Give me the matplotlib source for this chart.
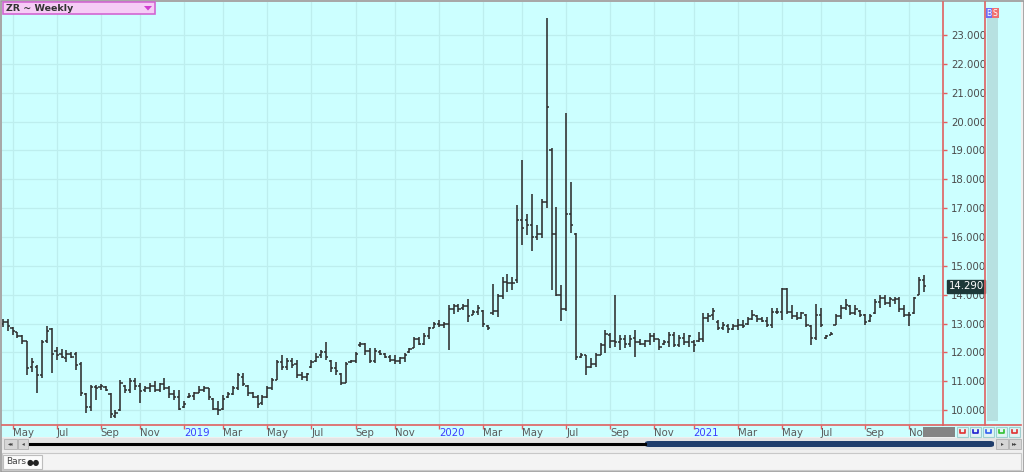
import numpy as np
import pandas as pd
import matplotlib
matplotlib.use('Agg')
import matplotlib.pyplot as plt
from matplotlib.patches import Rectangle, Polygon, FancyBboxPatch
from matplotlib.lines import Line2D

# weekly bars, ZR (rough rice), first bar week of 2018-04-20
first_week = '2018-04-20'

highs = [13.15, 13.15, 12.89, 12.71, 12.60, 12.40, 11.80, 11.56, 12.43, 12.91,
         12.83, 12.20, 12.10, 12.08, 12.02, 12.02, 11.68, 10.59, 10.87, 10.87,
         10.90, 10.85, 10.59, 10.00, 11.05, 10.87, 11.10, 11.10, 10.93, 10.82,
         10.93, 10.99, 10.93, 11.10, 10.82, 10.70, 10.70, 10.30, 10.59, 10.64,
         10.82, 10.82, 10.76, 10.41, 10.30, 10.53, 10.64, 10.82, 11.28, 11.28,
         10.87, 10.64, 10.53, 10.53, 10.82, 11.10, 11.74, 11.91, 11.80, 11.80,
         11.74, 11.33, 11.28, 11.74, 11.97, 12.08, 12.37, 11.74, 11.68, 11.28,
         11.68, 11.74, 12.02, 12.37, 12.31, 12.14, 12.14, 12.08, 11.97, 11.91,
         11.90, 11.85, 11.97, 12.14, 12.54, 12.54, 12.66, 12.89, 13.06, 13.11,
         13.06, 13.63, 13.69, 13.69, 13.69, 13.86, 13.46, 13.63, 13.46, 12.94,
         14.38, 14.03, 14.60, 14.72, 14.60, 17.10, 18.67, 16.80, 17.50, 16.40,
         17.30, 23.58, 19.07, 17.05, 14.34, 20.30, 17.90, 16.15, 11.97, 11.90,
         11.80, 11.97, 12.31, 12.77, 12.66, 13.98, 12.60, 12.60, 12.60, 12.77,
         12.48, 12.43, 12.66, 12.66, 12.48, 12.43, 12.71, 12.71, 12.60, 12.66,
         12.60, 12.43, 12.71, 13.35, 13.35, 13.52, 13.11, 13.06, 13.00, 13.00,
         13.17, 13.11, 13.23, 13.46, 13.29, 13.23, 13.23, 13.52, 13.52, 14.23,
         14.23, 13.63, 13.40, 13.40, 13.34, 12.94, 13.69, 13.52, 12.60, 12.71,
         13.34, 13.63, 13.86, 13.63, 13.63, 13.46, 13.34, 13.34, 13.86, 13.98,
         13.98, 13.92, 13.92, 13.92, 13.63, 13.40, 13.92, 14.60, 14.68]

lows = [12.89, 12.75, 12.60, 12.50, 12.30, 11.22, 11.33, 10.59, 11.10, 12.31,
        11.28, 11.74, 11.80, 11.68, 11.80, 11.40, 10.47, 9.90, 9.95, 10.36,
        10.70, 10.65, 9.72, 9.72, 9.95, 10.59, 10.59, 10.70, 10.24, 10.64,
        10.64, 10.64, 10.64, 10.70, 10.41, 10.36, 10.00, 10.07, 10.41, 10.36,
        10.59, 10.64, 10.36, 10.00, 9.84, 10.00, 10.41, 10.53, 10.70, 10.82,
        10.47, 10.41, 10.07, 10.18, 10.41, 10.70, 11.05, 11.39, 11.39, 11.45,
        11.10, 11.05, 10.99, 11.45, 11.68, 11.80, 11.74, 11.33, 11.22, 10.87,
        10.93, 11.62, 11.62, 12.20, 11.91, 11.62, 11.62, 11.91, 11.80, 11.68,
        11.60, 11.60, 11.68, 11.97, 12.14, 12.25, 12.25, 12.48, 12.83, 12.89,
        12.83, 12.08, 13.34, 13.40, 13.46, 13.06, 13.29, 13.29, 12.89, 12.77,
        13.29, 13.23, 13.86, 14.09, 14.15, 14.40, 15.72, 16.07, 15.50, 15.90,
        15.95, 17.00, 14.17, 13.94, 13.07, 13.42, 16.13, 11.74, 11.80, 11.22,
        11.45, 11.50, 11.90, 11.97, 12.14, 12.20, 12.08, 12.14, 12.20, 11.85,
        12.25, 12.20, 12.25, 12.37, 12.08, 12.25, 12.20, 12.20, 12.20, 12.25,
        12.20, 12.02, 12.37, 12.37, 13.06, 13.11, 12.77, 12.77, 12.66, 12.77,
        12.77, 12.83, 12.94, 13.11, 13.06, 13.06, 12.89, 12.83, 13.34, 13.11,
        13.34, 13.17, 13.11, 13.17, 12.89, 12.25, 12.43, 12.89, 12.48, 12.60,
        12.94, 13.17, 13.46, 13.29, 13.29, 13.23, 12.94, 13.06, 13.34, 13.52,
        13.63, 13.57, 13.69, 13.40, 13.23, 12.92, 13.34, 13.98, 14.10]

opens = [13.00, 13.05, 12.85, 12.70, 12.55, 12.40, 11.50, 11.50, 11.20, 12.40,
         12.80, 12.05, 11.95, 11.80, 11.95, 11.95, 11.60, 10.55, 10.10, 10.80,
         10.80, 10.80, 10.55, 9.80, 10.00, 10.85, 10.70, 11.00, 10.85, 10.70,
         10.75, 10.85, 10.70, 10.90, 10.75, 10.55, 10.45, 10.10, 10.45, 10.50,
         10.60, 10.70, 10.75, 10.40, 10.05, 10.05, 10.45, 10.55, 10.75, 11.15,
         10.85, 10.60, 10.45, 10.25, 10.45, 10.75, 11.05, 11.65, 11.50, 11.70,
         11.60, 11.20, 11.15, 11.50, 11.70, 11.90, 12.00, 11.70, 11.45, 11.25,
         10.95, 11.65, 11.70, 12.25, 12.30, 12.05, 11.70, 12.00, 11.95, 11.85,
         11.75, 11.70, 11.80, 12.00, 12.15, 12.45, 12.30, 12.55, 12.85, 13.00,
         12.95, 13.00, 13.50, 13.60, 13.55, 13.60, 13.30, 13.40, 13.45, 12.90,
         13.35, 13.45, 13.95, 14.45, 14.40, 14.50, 16.60, 16.60, 16.40, 16.00,
         16.10, 17.20, 19.00, 16.10, 14.00, 13.50, 16.80, 16.10, 11.85, 11.90,
         11.50, 11.60, 11.90, 12.25, 12.60, 12.40, 12.35, 12.45, 12.30, 12.50,
         12.35, 12.30, 12.40, 12.55, 12.45, 12.30, 12.35, 12.60, 12.25, 12.50,
         12.35, 12.35, 12.40, 12.45, 13.20, 13.30, 13.05, 12.85, 12.90, 12.80,
         12.90, 12.95, 13.00, 13.15, 13.25, 13.15, 13.10, 12.95, 13.40, 13.40,
         14.20, 13.40, 13.25, 13.20, 13.30, 12.90, 12.50, 13.30, 12.50, 12.60,
         12.95, 13.25, 13.55, 13.60, 13.35, 13.45, 13.30, 13.10, 13.35, 13.75,
         13.90, 13.70, 13.80, 13.85, 13.50, 13.30, 13.35, 14.00, 14.50]

closes = [13.05, 12.90, 12.75, 12.55, 12.40, 11.45, 11.65, 11.20, 12.35, 12.75,
          11.95, 11.90, 11.85, 11.95, 11.85, 11.55, 10.60, 10.10, 10.80, 10.75,
          10.85, 10.70, 9.85, 9.90, 10.95, 10.70, 11.00, 10.85, 10.65, 10.75,
          10.85, 10.70, 10.90, 10.75, 10.55, 10.45, 10.05, 10.20, 10.50, 10.60,
          10.70, 10.75, 10.45, 10.05, 10.00, 10.40, 10.55, 10.75, 11.20, 10.90,
          10.60, 10.45, 10.20, 10.45, 10.75, 11.05, 11.65, 11.50, 11.70, 11.55,
          11.20, 11.15, 11.25, 11.65, 11.85, 12.00, 11.85, 11.45, 11.35, 10.95,
          11.60, 11.70, 11.95, 12.30, 12.05, 11.70, 12.05, 11.95, 11.85, 11.75,
          11.70, 11.80, 11.90, 12.10, 12.45, 12.30, 12.55, 12.85, 13.00, 12.95,
          13.00, 13.50, 13.60, 13.50, 13.60, 13.25, 13.40, 13.55, 13.00, 12.85,
          13.45, 13.95, 14.45, 14.40, 14.40, 16.60, 16.30, 16.40, 16.00, 16.10,
          17.20, 20.50, 16.10, 14.00, 13.50, 16.80, 16.40, 11.85, 11.90, 11.50,
          11.60, 11.90, 12.25, 12.65, 12.40, 12.35, 12.45, 12.30, 12.45, 12.35,
          12.30, 12.40, 12.55, 12.45, 12.20, 12.35, 12.60, 12.25, 12.50, 12.35,
          12.55, 12.25, 12.45, 13.20, 13.25, 13.45, 12.85, 12.95, 12.80, 12.90,
          12.95, 12.90, 13.15, 13.30, 13.15, 13.10, 12.95, 13.40, 13.40, 14.20,
          13.40, 13.25, 13.20, 13.35, 12.95, 12.50, 13.30, 12.95, 12.55, 12.65,
          13.25, 13.55, 13.65, 13.35, 13.50, 13.30, 13.05, 13.25, 13.75, 13.90,
          13.70, 13.85, 13.85, 13.50, 13.30, 13.30, 13.90, 14.50, 14.29]

last_price = 14.290
price_levels = list(range(10, 24))
month_names = {3: 'Mar', 5: 'May', 7: 'Jul', 9: 'Sep', 11: 'Nov'}

W, H = 1024, 472
BG = '#ccffff'
GRID = '#bdeeee'
RED = '#e06060'


def fx(x):
    return x / W


def fy(y):
    return 1 - y / H


def rect(x0, y0, x1, y1, **kw):
    r = Rectangle((fx(x0), fy(y1)), (x1 - x0) / W, (y1 - y0) / H,
                  transform=fig.transFigure, **kw)
    fig.add_artist(r)
    return r


def line(xs, ys, **kw):
    fig.add_artist(Line2D([fx(v) for v in xs], [fy(v) for v in ys],
                          transform=fig.transFigure, **kw))


dates = pd.date_range(first_week, periods=len(highs), freq='W-FRI')
idx = np.arange(len(highs))

# first bar of every second month
tick_pos, tick_lab, tick_col = [], [], []
prev = None
for i, d in enumerate(dates):
    key = (d.year, d.month)
    if key != prev and d.month % 2 == 1:
        tick_pos.append(i)
        if d.month == 1:
            tick_lab.append(str(d.year))
            tick_col.append('#3c3cff')
        else:
            tick_lab.append(month_names[d.month])
            tick_col.append('#5a5a5a')
    prev = key

fig = plt.figure(figsize=(W / 100, H / 100), dpi=100)
fig.patch.set_facecolor('#efefef')

# backgrounds
rect(2, 2, 1021, 437, facecolor=BG, edgecolor='none', zorder=-10)
rect(0.5, 0.5, 1023.5, 471.5, facecolor='none', edgecolor='#9a9a9a', lw=1.2, zorder=-9)

# scrollbar strip first, so the month labels sit above it
rect(2, 438, 1021, 450, facecolor='#e4e4e4', edgecolor='none', zorder=-8)

# price panel
ax = fig.add_axes([fx(2), fy(425), (943 - 2) / W, (425 - 2) / H])
ax.set_facecolor(BG)

step = 4.9
ax.set_xlim((2 - 2.7) / step, (943 - 2.7) / step)
ax.set_ylim(23 - (425 - 35) / 28.85, 23 + 33 / 28.85)

for v in price_levels:
    ax.axhline(v, color=GRID, lw=0.9, zorder=0)
for p in tick_pos:
    ax.axvline(p, color=GRID, lw=0.9, zorder=0)

bar_col = '#2e2e2e'
ax.vlines(idx, lows, highs, color=bar_col, lw=1.15, zorder=3)
ax.hlines(opens, idx - 0.45, idx, color=bar_col, lw=1.1, zorder=3)
ax.hlines(closes, idx, idx + 0.45, color=bar_col, lw=1.1, zorder=3)

ax.yaxis.tick_right()
ax.set_yticks(price_levels)
ax.set_yticklabels([f'{v:.3f}' for v in price_levels])
ax.tick_params(axis='y', colors=RED, labelcolor='#4a4a4a', length=3,
               width=1, pad=3, labelsize=7.3)
ax.set_xticks(tick_pos)
ax.set_xticklabels(tick_lab, ha='left')
ax.tick_params(axis='x', colors=RED, length=3, width=1, pad=-0.8,
               labelsize=7.3)
for t, c in zip(ax.get_xticklabels(), tick_col):
    t.set_color(c)

for s in ['left', 'top']:
    ax.spines[s].set_visible(False)
ax.spines['right'].set_color(RED)
ax.spines['bottom'].set_color(RED)
ax.spines['right'].set_linewidth(1.2)
ax.spines['bottom'].set_linewidth(1.2)

# last price tag
ax.annotate(f'{last_price:.3f}', xy=(1.0, last_price),
            xycoords=('axes fraction', 'data'),
            xytext=(4, 0), textcoords='offset points',
            ha='left', va='center', fontsize=7.3, color='white', zorder=10,
            bbox=dict(boxstyle='square,pad=0.15', fc='#1d3838', ec='#1d3838'),
            annotation_clip=False)

# right strip with B / S
line([985, 985], [2, 425], color=RED, lw=1.2)
line([943, 1021], [425, 425], color=RED, lw=1.2)
rect(987, 12, 998, 421, facecolor='#b7e1e1', edgecolor='none')
rect(985.5, 8, 992, 18, facecolor='#6f6ff5', edgecolor='none')
rect(992, 8, 998.5, 18, facecolor='#f07070', edgecolor='none')
fig.text(fx(988.8), fy(13), 'B', color='white', fontsize=5.5,
         ha='center', va='center')
fig.text(fx(995.3), fy(13), 'S', color='white', fontsize=5.5,
         ha='center', va='center')

# symbol box
rect(3, 2, 155, 14, facecolor='#f6ccf6', edgecolor='#d266d2', lw=1.2)
fig.text(fx(6), fy(8.3), 'ZR ~ Weekly', fontsize=6.8, color='#333333',
         fontweight='bold', ha='left', va='center')
fig.add_artist(Polygon([[fx(144), fy(6)], [fx(152), fy(6)], [fx(148), fy(10.5)]],
                       closed=True, transform=fig.transFigure,
                       facecolor='#d03cd0', edgecolor='none'))

# bottom right buttons
rect(923, 427, 955, 437, facecolor='#858585', edgecolor='none')
btn_cols = ['#e03030', '#2020d0', '#3060f0', '#30c030', '#e03030']
for k, c in enumerate(btn_cols):
    x0 = 957 + k * 13
    rect(x0, 427, x0 + 11, 437, facecolor='#e2f4f4', edgecolor='#9fcfcf', lw=0.8)
    line([x0 + 3, x0 + 3, x0 + 8, x0 + 8], [430, 433, 433, 430], color=c, lw=1.2)

# scrollbar
rect(4, 439, 17, 449, facecolor='#d6d6d6', edgecolor='#b0b0b0', lw=0.6)
rect(18, 439, 28, 449, facecolor='#d6d6d6', edgecolor='#b0b0b0', lw=0.6)
fig.text(fx(10.5), fy(444), '◂◂', fontsize=4, color='#444', ha='center', va='center')
fig.text(fx(23), fy(444), '◂', fontsize=4, color='#444', ha='center', va='center')
line([30, 645], [444, 444], color='black', lw=2.2)
fig.add_artist(FancyBboxPatch((fx(645), fy(447)), (994 - 645) / W, 6 / H,
                              boxstyle='round,pad=0,rounding_size=0.004',
                              transform=fig.transFigure,
                              facecolor='#1f3d6b', edgecolor='none'))
rect(996, 439, 1008, 449, facecolor='#d6d6d6', edgecolor='#b0b0b0', lw=0.6)
rect(1009, 439, 1021, 449, facecolor='#d6d6d6', edgecolor='#b0b0b0', lw=0.6)
fig.text(fx(1002), fy(444), '▸', fontsize=4, color='#444', ha='center', va='center')
fig.text(fx(1015), fy(444), '▸▸', fontsize=4, color='#444', ha='center', va='center')

# status bar
rect(2, 453, 1021, 470, facecolor='#f4f4f4', edgecolor='#c8c8c8', lw=0.8)
rect(3, 455, 42, 469, facecolor='#fbfbfb', edgecolor='#bdbdbd', lw=0.8)
fig.text(fx(6), fy(462), 'Bars', fontsize=6.5, color='#444', ha='left', va='center')
fig.text(fx(27), fy(462), '●●', fontsize=5.5, color='#222', ha='left', va='center')

fig.savefig('out.png', dpi=100, facecolor=fig.get_facecolor())
